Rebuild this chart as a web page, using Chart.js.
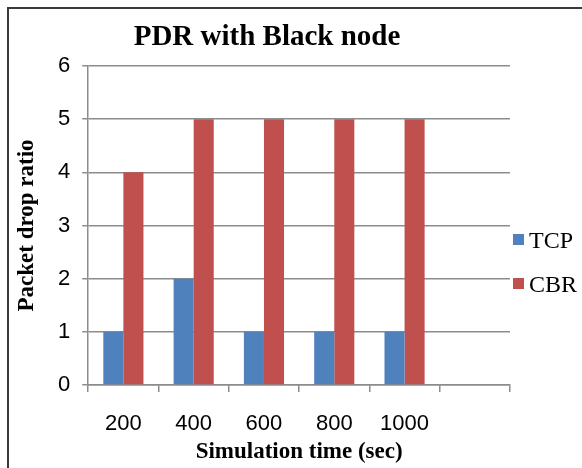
<!DOCTYPE html>
<html>
<head>
<meta charset="utf-8">
<script src="https://cdn.jsdelivr.net/npm/chart.js@4/dist/chart.umd.min.js"></script>
<style>
  html, body { margin: 0; padding: 0; background: #fff; }
  #wrap { width: 582px; height: 468px; }
</style>
</head>
<body>
<div id="wrap"><canvas id="pdrChart" width="582" height="468"></canvas></div>
<script>
// Packet drop ratio per simulation time
const categories = ['200', '400', '600', '800', '1000', ''];
const tcpValues = [1, 2, 1, 1, 1, null];
const cbrValues = [4, 5, 5, 5, 5, null];
const yTicks = [0, 1, 2, 3, 4, 5, 6];
const chartTitle = 'PDR with Black node';

const serif = "'Liberation Serif', 'DejaVu Serif', serif";
const sans = "'Liberation Sans', Arial, sans-serif";
const gridColor = '#8c8c8c';

// Outer frame + title drawn by hand (title sits left of the canvas center)
const framePlugin = {
    id: 'frame',
    beforeDraw: (chart) => {
        const ctx = chart.ctx;
        ctx.save();
        ctx.fillStyle = '#fff';
        ctx.fillRect(0, 0, chart.width, chart.height);
        ctx.strokeStyle = '#3a3a3a';
        ctx.lineWidth = 2;
        ctx.strokeRect(8, 8, chart.width + 20, chart.height + 20);

        ctx.fillStyle = '#000';
        ctx.font = `bold 29px ${serif}`;
        ctx.textAlign = 'center';
        ctx.textBaseline = 'alphabetic';
        ctx.fillText(chartTitle, 267, 45);
        ctx.restore();
    }
};

// Legend to the right of the plot, a little below its middle
const sideLegend = {
    id: 'sideLegend',
    afterDraw: (chart) => {
        const ctx = chart.ctx;
        const area = chart.chartArea;
        const midY = (area.top + area.bottom) / 2 + 36;
        const step = 44;
        ctx.save();
        ctx.font = `24px ${serif}`;
        ctx.textAlign = 'left';
        ctx.textBaseline = 'alphabetic';
        chart.data.datasets.forEach((ds, i) => {
            const cy = midY + (i - 0.5) * step;
            ctx.fillStyle = ds.backgroundColor;
            ctx.fillRect(area.right + 3, cy - 5.5, 11, 11);
            ctx.fillStyle = '#000';
            ctx.fillText(ds.label, area.right + 19, cy + 8.5);
        });
        ctx.restore();
    }
};

const ctx = document.getElementById('pdrChart').getContext('2d');

new Chart(ctx, {
    type: 'bar',
    data: {
        labels: categories,
        datasets: [{
            label: 'TCP',
            data: tcpValues,
            backgroundColor: '#4f81bd',
            categoryPercentage: 0.571,
            barPercentage: 1
        }, {
            label: 'CBR',
            data: cbrValues,
            backgroundColor: '#c0504d',
            categoryPercentage: 0.571,
            barPercentage: 1
        }]
    },
    plugins: [framePlugin, sideLegend],
    options: {
        responsive: false,
        animation: false,
        layout: {
            padding: { left: 16, top: 66, right: 72, bottom: 4.5 }
        },
        plugins: {
            title: { display: false },
            legend: { display: false },
            tooltip: { enabled: false }
        },
        scales: {
            x: {
                offset: true,
                grid: {
                    offset: true,
                    drawOnChartArea: false,
                    drawTicks: true,
                    tickLength: 7,
                    color: gridColor,
                    lineWidth: 1.5
                },
                border: { color: gridColor, width: 1.5 },
                ticks: {
                    color: '#000',
                    padding: 21,
                    font: { family: sans, size: 22, lineHeight: 1 }
                },
                title: {
                    display: true,
                    text: 'Simulation time (sec)',
                    color: '#000',
                    font: { family: serif, size: 23, weight: 'bold', lineHeight: 1 },
                    // labels reserve double padding, pull the title back up
                    padding: { top: -15.5, bottom: 0 }
                }
            },
            y: {
                min: 0,
                max: 6,
                afterBuildTicks: (axis) => {
                    axis.ticks = yTicks.map(v => ({ value: v }));
                },
                grid: {
                    color: gridColor,
                    lineWidth: 1.5,
                    tickLength: 6
                },
                border: { color: gridColor, width: 1.5 },
                ticks: {
                    color: '#000',
                    padding: 12,
                    font: { family: sans, size: 22 }
                },
                title: {
                    display: true,
                    text: 'Packet drop ratio',
                    color: '#000',
                    font: { family: serif, size: 23, weight: 'bold', lineHeight: 1 },
                    padding: { top: 0, bottom: 7 }
                }
            }
        }
    }
});
</script>
</body>
</html>
